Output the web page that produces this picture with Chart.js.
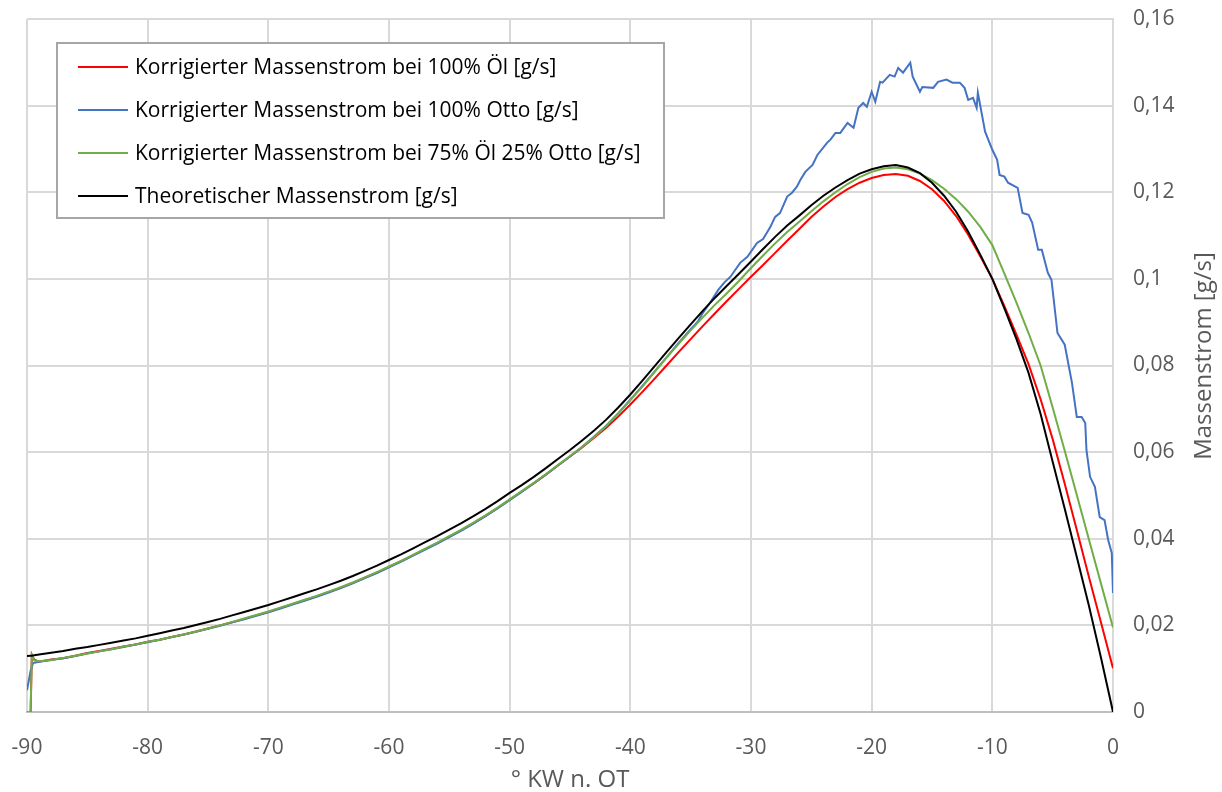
<!DOCTYPE html>
<html>
<head>
<meta charset="utf-8">
<script src="https://cdn.jsdelivr.net/npm/chart.js@4.4.1/dist/chart.umd.min.js"></script>
<style>
  html, body { margin: 0; padding: 0; background: #ffffff; }
  #wrap { width: 1222px; height: 792px; position: relative; }
</style>
</head>
<body>
<div id="wrap"><canvas id="c" width="1222" height="792"></canvas></div>
<script>
// ---- data ----
const seriesLabels = [
  'Korrigierter Massenstrom bei 100% Öl [g/s]',
  'Korrigierter Massenstrom bei 100% Otto [g/s]',
  'Korrigierter Massenstrom bei 75% Öl 25% Otto [g/s]',
  'Theoretischer Massenstrom [g/s]'
];
const xTitle = '° KW n. OT';
const yTitle = 'Massenstrom [g/s]';
const xTicks = [-90, -80, -70, -60, -50, -40, -30, -20, -10, 0];
const yTicks = [0, 0.02, 0.04, 0.06, 0.08, 0.1, 0.12, 0.14, 0.16];

// crank angle (° KW n. OT) shared by Öl, Mix and theoretical series
const kw = [-90, -89.7, -89.6, -89.4,
  -89, -88, -87, -86, -85, -84, -83, -82, -81, -80,
  -79, -78, -77, -76, -75, -74, -73, -72, -71, -70,
  -69, -68, -67, -66, -65, -64, -63, -62, -61, -60,
  -59, -58, -57, -56, -55, -54, -53, -52, -51, -50,
  -49, -48, -47, -46, -45, -44, -43, -42, -41, -40,
  -39, -38, -37, -36, -35, -34, -33, -32, -31, -30,
  -29, -28, -27, -26, -25, -24, -23, -22, -21, -20,
  -19, -18, -17, -16, -15, -14, -13, -12, -11, -10,
  -9, -8, -7, -6, -5, -4, -3, -2, -1, 0];

const massOel = [null, 0, 0.0132, 0.0121,
  0.0116, 0.0121, 0.0124, 0.0130, 0.0136, 0.0141, 0.0146, 0.0151, 0.0156, 0.0162,
  0.0167, 0.0173, 0.0179, 0.0186, 0.0193, 0.0200, 0.0207, 0.0215, 0.0223, 0.0231,
  0.0240, 0.0249, 0.0258, 0.0267, 0.0277, 0.0287, 0.0298, 0.0310, 0.0322, 0.0335,
  0.0348, 0.0362, 0.0376, 0.0390, 0.0405, 0.0420, 0.0436, 0.0453, 0.0471, 0.0490,
  0.0509, 0.0528, 0.0548, 0.0569, 0.0590, 0.0611, 0.0633, 0.0656, 0.0682, 0.0710,
  0.0739, 0.0769, 0.0800, 0.0831, 0.0861, 0.0891, 0.0920, 0.0949, 0.0977, 0.1005,
  0.1032, 0.1060, 0.1088, 0.1115, 0.1143, 0.1167, 0.1189, 0.1207, 0.1222, 0.1233,
  0.1240, 0.1242, 0.1238, 0.1226, 0.1207, 0.1180, 0.1145, 0.1102, 0.1052, 0.1000,
  0.0937, 0.0871, 0.0803, 0.0722, 0.0630, 0.0527, 0.0420, 0.0312, 0.0207, 0.0101];

const massMix = [0, 0, 0.0132, 0.0119,
  0.0117, 0.0120, 0.0125, 0.0130, 0.0135, 0.0140, 0.0145, 0.0151, 0.0156, 0.0162,
  0.0167, 0.0173, 0.0179, 0.0186, 0.0193, 0.0200, 0.0208, 0.0216, 0.0224, 0.0232,
  0.0241, 0.0250, 0.0259, 0.0268, 0.0278, 0.0288, 0.0299, 0.0311, 0.0323, 0.0336,
  0.0349, 0.0363, 0.0377, 0.0391, 0.0406, 0.0421, 0.0437, 0.0454, 0.0472, 0.0491,
  0.0510, 0.0529, 0.0549, 0.0570, 0.0591, 0.0612, 0.0635, 0.0660, 0.0689, 0.0720,
  0.0751, 0.0785, 0.0818, 0.0850, 0.0881, 0.0911, 0.0940, 0.0967, 0.0995, 0.1025,
  0.1054, 0.1082, 0.1108, 0.1132, 0.1156, 0.1179, 0.1200, 0.1219, 0.1235, 0.1247,
  0.1255, 0.1257, 0.1253, 0.1243, 0.1228, 0.1208, 0.1184, 0.1155, 0.1120, 0.1078,
  0.1012, 0.0945, 0.0875, 0.0800, 0.0703, 0.0603, 0.0501, 0.0399, 0.0297, 0.0195];

const massTheo = [0.0129, 0.0130, 0.0130, 0.0131,
  0.0133, 0.0137, 0.0141, 0.0146, 0.0150, 0.0155, 0.0160, 0.0165, 0.0170, 0.0176,
  0.0182, 0.0188, 0.0194, 0.0201, 0.0208, 0.0215, 0.0223, 0.0231, 0.0239, 0.0247,
  0.0256, 0.0265, 0.0274, 0.0283, 0.0293, 0.0303, 0.0314, 0.0326, 0.0338, 0.0351,
  0.0364, 0.0378, 0.0392, 0.0406, 0.0421, 0.0436, 0.0452, 0.0469, 0.0487, 0.0506,
  0.0524, 0.0543, 0.0563, 0.0584, 0.0605, 0.0627, 0.0650, 0.0675, 0.0703, 0.0733,
  0.0765, 0.0798, 0.0831, 0.0863, 0.0895, 0.0926, 0.0956, 0.0984, 0.1012, 0.1040,
  0.1069, 0.1097, 0.1123, 0.1146, 0.1170, 0.1192, 0.1211, 0.1228, 0.1243, 0.1253,
  0.1260, 0.1263, 0.1257, 0.1244, 0.1222, 0.1192, 0.1155, 0.1109, 0.1056, 0.1000,
  0.0932, 0.0861, 0.0783, 0.0688, 0.0578, 0.0469, 0.0358, 0.0246, 0.0126, 0];

// 100% Otto series (own, finer crank-angle grid)
const kwOtto = [-90, -89.7, -89.5,
  -89, -88, -87, -86, -85, -84, -83, -82, -81, -80,
  -79, -78, -77, -76, -75, -74, -73, -72, -71, -70,
  -69, -68, -67, -66, -65, -64, -63, -62, -61, -60,
  -59, -58, -57, -56, -55, -54, -53, -52, -51, -50,
  -49, -48, -47, -46, -45, -44, -43, -42, -41, -40,
  -39, -38, -37, -36, -35, -34.4, -34, -33.4, -32.7, -32.2, -31.7, -30.9, -30.3,
  -29.5, -29, -28.4, -28, -27.6, -27, -26.6, -26.2, -25.9, -25.5, -24.9, -24.5,
  -23.7, -23.4, -23, -22.6, -22, -21.5, -21.1, -20.7, -20.4, -20, -19.7, -19.3,
  -19.1, -18.5, -18.1, -17.8, -17.4, -16.8, -16.6, -16, -15.8, -14.9, -14.5,
  -13.8, -13.3, -12.7, -12.3, -12, -11.6, -11.3, -11.2, -10.6, -10, -9.6, -9.4,
  -9, -8.7, -7.9, -7.5, -7, -6.7, -6.2, -5.9, -5.4, -5.1, -4.6, -4, -3.4, -3,
  -2.6, -2.3, -2.2, -1.9, -1.5, -1.1, -0.7, -0.4, -0.1, 0];

const massOtto = [0.0050, 0.0095, 0.0113,
  0.0116, 0.0120, 0.0124, 0.0129, 0.0135, 0.0140, 0.0145, 0.0150, 0.0156, 0.0161,
  0.0167, 0.0173, 0.0179, 0.0185, 0.0192, 0.0199, 0.0207, 0.0214, 0.0222, 0.0230,
  0.0239, 0.0248, 0.0257, 0.0266, 0.0276, 0.0286, 0.0297, 0.0309, 0.0321, 0.0334,
  0.0347, 0.0361, 0.0375, 0.0389, 0.0404, 0.0419, 0.0435, 0.0452, 0.0470, 0.0489,
  0.0508, 0.0528, 0.0548, 0.0569, 0.0590, 0.0612, 0.0636, 0.0661, 0.0690, 0.0721,
  0.0753, 0.0786, 0.0819, 0.0852, 0.0884, 0.0902, 0.0921, 0.0945, 0.0975, 0.0992, 0.1005, 0.1037, 0.1051,
  0.1083, 0.1092, 0.1120, 0.1143, 0.1152, 0.1190, 0.1199, 0.1213, 0.1229, 0.1247, 0.1263, 0.1286,
  0.1314, 0.1322, 0.1337, 0.1337, 0.1360, 0.1349, 0.1395, 0.1406, 0.1397, 0.1432, 0.1409, 0.1455,
  0.1453, 0.1471, 0.1467, 0.1487, 0.1476, 0.1499, 0.1467, 0.1432, 0.1443, 0.1441, 0.1455,
  0.1460, 0.1453, 0.1453, 0.1441, 0.1413, 0.1418, 0.1395, 0.1430, 0.1340, 0.1298, 0.1275, 0.1240,
  0.1236, 0.1222, 0.1210, 0.1152, 0.1148, 0.1130, 0.1067, 0.1067, 0.1014, 0.0998, 0.0875, 0.0848, 0.0760, 0.0681,
  0.0681, 0.0667, 0.0605, 0.0543, 0.0520, 0.0450, 0.0443, 0.0397, 0.0367, 0.0275];

const seriesColors = ['#FF0000', '#4472C4', '#70AD47', '#000000'];

// ---- build chart ----
const FONT = '"Open Sans", Lato, sans-serif';
const TXT = '#595959';
const GRID = '#d9d9d9';

function pts(xs, ys) { return xs.map((x, i) => ({ x: x, y: ys[i] })); }

const decorPlugin = {
  id: 'decor',
  afterDraw(chart) {
    const ctx = chart.ctx;
    ctx.save();
    // y-axis title, reading bottom-to-top
    ctx.font = '24px ' + FONT;
    ctx.fillStyle = TXT;
    ctx.textAlign = 'center';
    ctx.textBaseline = 'middle';
    ctx.translate(1204, 356);
    ctx.rotate(-Math.PI / 2);
    ctx.fillText(yTitle, 0, 0);
    ctx.restore();

    // legend box
    ctx.save();
    const bx = 57, by = 43, bw = 607, bh = 175;
    ctx.fillStyle = '#ffffff';
    ctx.fillRect(bx, by, bw, bh);
    ctx.strokeStyle = '#a6a6a6';
    ctx.lineWidth = 2;
    ctx.strokeRect(bx, by, bw, bh);
    const rows = [67, 110, 153, 196];
    ctx.font = '21px ' + FONT;
    ctx.textBaseline = 'middle';
    ctx.textAlign = 'left';
    chart.data.datasets.forEach((ds, i) => {
      const y = rows[i];
      ctx.strokeStyle = ds.borderColor;
      ctx.lineWidth = 2;
      ctx.beginPath();
      ctx.moveTo(78, y);
      ctx.lineTo(128, y);
      ctx.stroke();
      ctx.fillStyle = '#000000';
      ctx.fillText(ds.label, 135, y + 1);
    });
    ctx.restore();
  }
};

const datasets = [
  { label: seriesLabels[0], data: pts(kw, massOel), borderColor: seriesColors[0], order: 3 },
  { label: seriesLabels[1], data: pts(kwOtto, massOtto), borderColor: seriesColors[1], order: 2 },
  { label: seriesLabels[2], data: pts(kw, massMix), borderColor: seriesColors[2], order: 1 },
  { label: seriesLabels[3], data: pts(kw, massTheo), borderColor: seriesColors[3], order: 0 }
].map(d => Object.assign(d, {
  borderWidth: 2, pointRadius: 0, tension: 0, fill: false, spanGaps: false
}));

new Chart(document.getElementById('c'), {
  type: 'line',
  data: { datasets: datasets },
  options: {
    responsive: false,
    animation: false,
    layout: { padding: { left: 27, top: 19, right: 0, bottom: 0 } },
    plugins: { legend: { display: false }, tooltip: { enabled: false } },
    scales: {
      x: {
        type: 'linear',
        min: xTicks[0], max: xTicks[xTicks.length - 1],
        afterBuildTicks: s => { s.ticks = xTicks.map(v => ({ value: v })); },
        afterFit: s => { s.height = 80; s.paddingLeft = 0; s.paddingRight = 0; },
        grid: { color: GRID, lineWidth: 2, drawTicks: false },
        border: { color: '#bfbfbf', width: 2 },
        ticks: {
          color: TXT, padding: 23, maxRotation: 0, autoSkip: false,
          font: { family: FONT, size: 21 },
          callback: v => String(v)
        },
        title: {
          display: true, text: xTitle, color: TXT,
          font: { family: FONT, size: 24, lineHeight: 1 }, padding: { top: 4, bottom: 0 }
        }
      },
      y: {
        type: 'linear', position: 'right',
        min: yTicks[0], max: yTicks[yTicks.length - 1],
        afterBuildTicks: s => { s.ticks = yTicks.map(v => ({ value: v })); },
        afterFit: s => { s.width = 109; s.paddingTop = 0; s.paddingBottom = 0; },
        grid: { color: GRID, lineWidth: 2, drawTicks: false },
        border: { color: GRID, width: 2 },
        ticks: {
          color: TXT, padding: 20, autoSkip: false,
          font: { family: FONT, size: 21 },
          callback: v => String(Math.round(v * 100) / 100).replace('.', ',')
        },
        title: { display: false }
      }
    }
  },
  plugins: [decorPlugin]
});
</script>
</body>
</html>
